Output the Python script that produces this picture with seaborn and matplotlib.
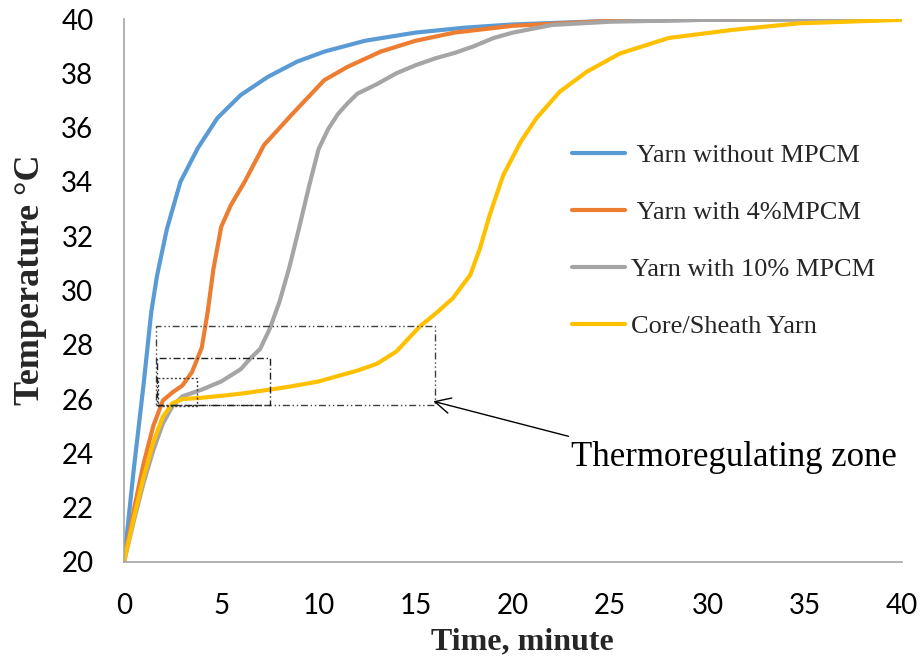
import matplotlib
matplotlib.use("Agg")
import matplotlib.pyplot as plt
from matplotlib.patches import Rectangle
from matplotlib.lines import Line2D
import seaborn as sns
import pandas as pd

# ---- data ----
series_names = [" Yarn without MPCM", " Yarn with 4%MPCM", "Yarn with 10% MPCM", "Core/Sheath Yarn"]
series_colors = ["#5B9BD5", "#ED7D31", "#A5A5A5", "#FFC000"]

t_blue = [0, 0.5, 1, 1.4, 1.7, 2.2, 2.9, 3.8, 4.8, 6, 7.4, 8.9, 10.3, 12.4, 15, 17.5, 20,
          25, 30, 35, 40]
T_blue = [20, 23.4, 26.5, 29.2, 30.55, 32.25, 34.0, 35.25, 36.35, 37.2, 37.87, 38.43, 38.8,
          39.2, 39.5, 39.68, 39.8, 39.93, 39.97, 39.99, 40]

t_orange = [0, 0.5, 1, 1.5, 2, 2.5, 3, 3.5, 4, 4.3, 4.6, 5, 5.5, 6.2, 7.2, 8.6, 10.3, 11.5,
            13.2, 15, 17, 20, 25, 30, 40]
T_orange = [20, 21.9, 23.6, 25.0, 25.95, 26.25, 26.5, 27.0, 27.9, 29.2, 30.8, 32.35, 33.15,
            34.0, 35.36, 36.46, 37.75, 38.24, 38.8, 39.2, 39.5, 39.75, 39.93, 39.98, 40]

t_gray = [0, 0.5, 1, 1.5, 2, 2.5, 3, 4, 5, 6, 6.5, 7, 7.5, 8, 8.5, 9, 9.5, 10, 10.5, 11, 11.5,
          12, 13, 14, 15, 16, 17, 18, 19, 20, 22, 25, 30, 40]
T_gray = [20, 21.5, 22.9, 24.1, 25.1, 25.75, 26.1, 26.35, 26.65, 27.1, 27.5, 27.85, 28.6, 29.6,
          30.85, 32.3, 33.8, 35.2, 35.95, 36.5, 36.9, 37.25, 37.6, 38.0, 38.3, 38.55, 38.75,
          39.0, 39.3, 39.5, 39.78, 39.9, 39.97, 40]

t_yellow = [0, 0.5, 1, 1.5, 2, 2.5, 3, 4, 5, 6, 7, 8, 9, 10, 11, 12, 13, 14, 15.2, 16.1, 16.9,
            17.8, 18.3, 18.8, 19.5, 20.4, 21.2, 22.4, 23.8, 25.5, 28, 31.3, 34.7, 40]
T_yellow = [20, 21.6, 23.1, 24.4, 25.35, 25.85, 26.0, 26.05, 26.12, 26.2, 26.3, 26.4, 26.52,
            26.65, 26.85, 27.05, 27.3, 27.75, 28.67, 29.2, 29.71, 30.57, 31.55, 32.78, 34.25,
            35.48, 36.34, 37.32, 38.06, 38.73, 39.3, 39.6, 39.84, 39.97]

# thermoregulating zone boxes: (x0, x1, y0, y1)
zone_x0 = [1.63, 1.68, 1.73]
zone_x1 = [16.0, 7.53, 3.77]
zone_y0 = [25.8, 25.77, 25.75]
zone_y1 = [28.71, 27.51, 26.78]

annot_text = "Thermoregulating zone"
annot_tip = (15.9, 25.92)
annot_tail = (22.85, 24.63)
annot_text_pos = (23.0, 23.85)

x_ticks = [0, 5, 10, 15, 20, 25, 30, 35, 40]
y_ticks = [20, 22, 24, 26, 28, 30, 32, 34, 36, 38, 40]

# ---- long-form frame ----
frames = []
for name, t, T in zip(series_names,
                      [t_blue, t_orange, t_gray, t_yellow],
                      [T_blue, T_orange, T_gray, T_yellow]):
    frames.append(pd.DataFrame({"t": t, "T": T, "series": name}))
df = pd.concat(frames, ignore_index=True)

sns.set_theme(style="white")
plt.rcParams["font.family"] = ["Lato", "DejaVu Sans"]

fig = plt.figure(figsize=(9.21, 6.61), dpi=100)
ax = fig.add_axes([124 / 921, 1 - 562 / 661, (902 - 124) / 921, (562 - 19) / 661])

sns.lineplot(data=df, x="t", y="T", hue="series", hue_order=series_names,
             palette=dict(zip(series_names, series_colors)), estimator=None,
             sort=False, linewidth=3.0, legend=False, ax=ax)
for ln in ax.lines:
    ln.set_solid_joinstyle("round")
    ln.set_solid_capstyle("round")

ax.set_xlim(0, 40)
ax.set_ylim(20, 40)
ax.set_xticks(x_ticks)
ax.set_yticks(y_ticks)

for s in ["top", "right"]:
    ax.spines[s].set_visible(False)
for s in ["left", "bottom"]:
    ax.spines[s].set_color("#A6A6A6")
    ax.spines[s].set_linewidth(1.2)
ax.tick_params(axis="both", which="major", direction="out", length=6, width=1.2,
               color="#A6A6A6", labelsize=20, labelcolor="black")
ax.tick_params(axis="x", pad=16)
ax.tick_params(axis="y", pad=16)

serif = ["Liberation Serif", "DejaVu Serif"]
ax.set_xlabel("Time, minute", fontsize=23, fontweight="bold", family=serif)
ax.set_ylabel("Temperature °C", fontsize=26, fontweight="bold", family=serif)
ax.xaxis.set_label_coords(0.512, -0.12)
ax.yaxis.set_label_coords(-0.099, 0.519)

# zone boxes
styles = [(0, (5, 2, 1, 2, 1, 2)), (0, (5, 2, 1, 2)), (0, (1.5, 1.5))]
edgecols = ["#404040", "#202020", "#404040"]
for x0, x1, y0, y1, ls, ec in zip(zone_x0, zone_x1, zone_y0, zone_y1, styles, edgecols):
    ax.add_patch(Rectangle((x0, y0), x1 - x0, y1 - y0, fill=False, linestyle=ls,
                           edgecolor=ec, linewidth=1.0, zorder=5))

ax.annotate("", xy=annot_tip, xytext=annot_tail,
            arrowprops=dict(arrowstyle="->", color="black", lw=1.0,
                            mutation_scale=28, shrinkA=0, shrinkB=0))
ax.text(annot_text_pos[0], annot_text_pos[1], annot_text, fontsize=25, family=serif,
        ha="left", va="center", color="black")

handles = [Line2D([0], [0], color=c, lw=3.0) for c in series_colors]
fig.legend(handles, series_names, loc="center left",
           bbox_to_anchor=(548 / 921, 1 - 241 / 661), bbox_transform=fig.transFigure,
           frameon=False, prop={"family": serif, "size": 19},
           handlelength=2.0, handletextpad=0.25, labelspacing=1.27)

fig.savefig("out.png", dpi=100)
